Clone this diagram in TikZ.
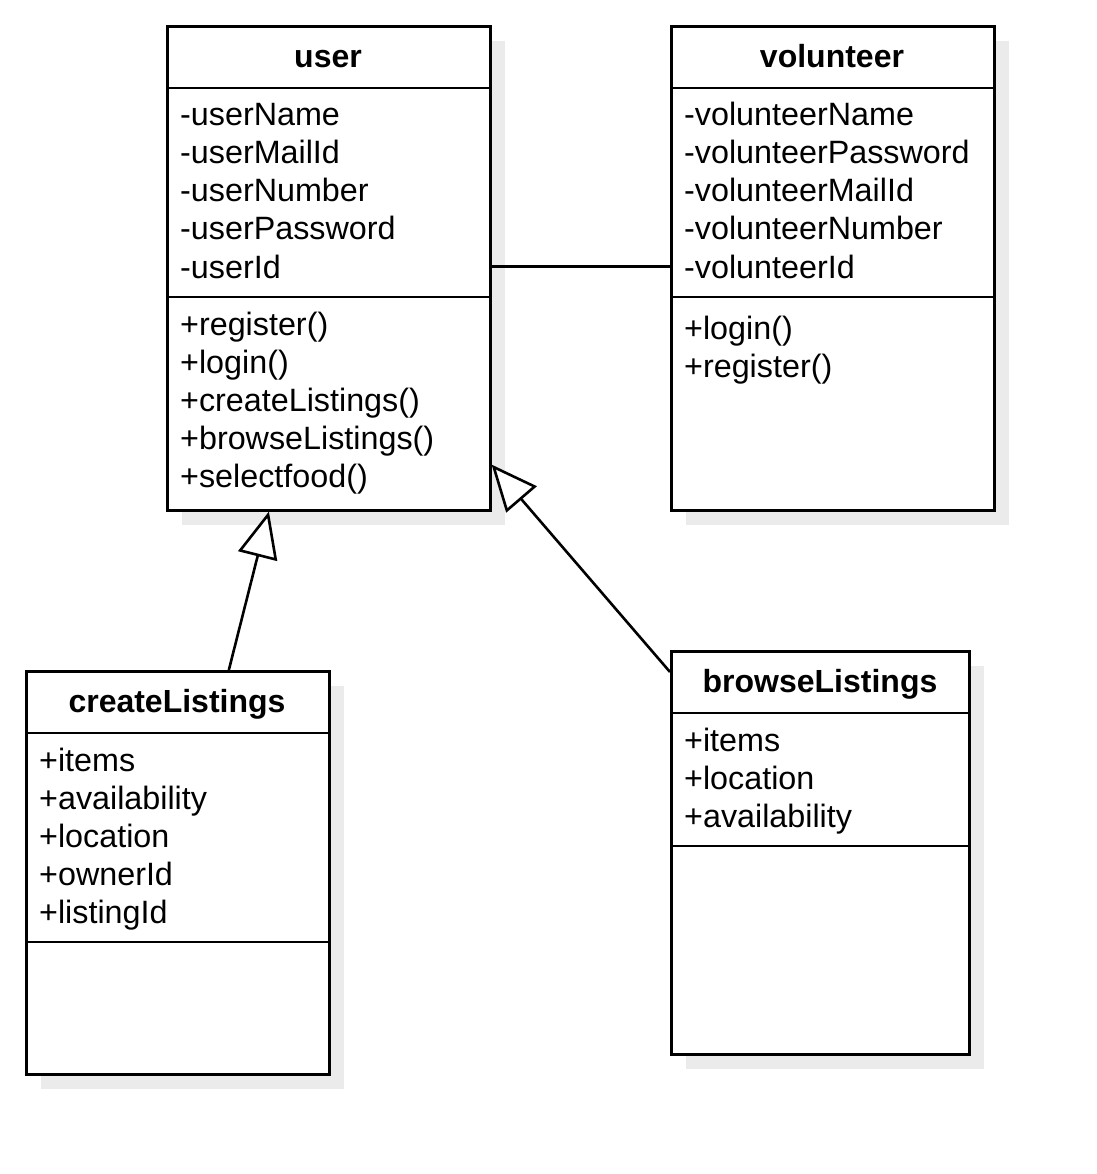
\documentclass[tikz,border=0pt]{standalone}
\usepackage{fontspec}
\setmainfont{Liberation Sans}
\usetikzlibrary{arrows.meta}
\usetikzlibrary{shadows}
\usetikzlibrary{calc}

\begin{document}
\begin{tikzpicture}[x=1pt,y=-1pt,
classbox/.style={draw,line width=2.6pt,fill=white,inner sep=0,anchor=north west,
drop shadow={shadow xshift=15pt,shadow yshift=-15pt,fill=black!8,opacity=1}},
title/.style={font=\fontsize{32}{38}\selectfont\bfseries,inner sep=0,anchor=base},
member/.style={font=\fontsize{32.3}{38}\selectfont,inner sep=0,anchor=base west},
sep/.style={line width=2.6pt},
inherit/.style={line width=2.6pt,-{Triangle[fill=white,length=46pt,width=40pt]}}]
\useasboundingbox (0,0) rectangle (1096,1174);
% class boxes
\node[classbox,minimum width=323pt,minimum height=484pt] (user) at (166,25) {};
\node[classbox,minimum width=323pt,minimum height=484pt] (volunteer) at (670,25) {};
\node[classbox,minimum width=303pt,minimum height=403pt] (cl) at (25,670) {};
\node[classbox,minimum width=298pt,minimum height=403pt] (bl) at (670,650) {};
% compartments
\draw[sep] (user.north west) ++(0,63) -- ++(323,0);
\draw[sep] (user.north west) ++(0,272) -- ++(323,0);
\draw[sep] (volunteer.north west) ++(0,63) -- ++(323,0);
\draw[sep] (volunteer.north west) ++(0,272) -- ++(323,0);
\draw[sep] (cl.north west) ++(0,63) -- ++(303,0);
\draw[sep] (cl.north west) ++(0,272) -- ++(303,0);
\draw[sep] (bl.north west) ++(0,63) -- ++(298,0);
\draw[sep] (bl.north west) ++(0,196) -- ++(298,0);
% titles
\node[title] (usert) at (328,68) {user};
\node[title] (volt) at (832,68) {volunteer};
\node[title] (clt) at (177,712) {createListings};
\node[title] (blt) at (820,692) {browseListings};
% members
\foreach \t [count=\i] in {-userName,-userMailId,-userNumber,-userPassword,-userId}
  \node[member] (ua\i) at (180,{126+38*(\i-1)}) {\t};
\foreach \t [count=\i] in {+register(),+login(),+createListings(),+browseListings(),+selectfood()}
  \node[member] (um\i) at (180,{335+38*(\i-1)}) {\t};
\foreach \t [count=\i] in {-volunteerName,-volunteerPassword,-volunteerMailId,-volunteerNumber,-volunteerId}
  \node[member] (va\i) at (684,{126+38*(\i-1)}) {\t};
\foreach \t [count=\i] in {+login(),+register()}
  \node[member] (vm\i) at (684,{339+38*(\i-1)}) {\t};
\foreach \t [count=\i] in {+items,+availability,+location,+ownerId,+listingId}
  \node[member] (ca\i) at (39,{771+38*(\i-1)}) {\t};
\foreach \t [count=\i] in {+items,+location,+availability}
  \node[member] (ba\i) at (684,{751+38*(\i-1)}) {\t};
% connectors
\draw[sep] (user.east |- va5) -- (volunteer.west |- va5);
\draw[inherit] ($(cl.north west)!0.667!(cl.north east)$) -- ($(user.south west)!0.316!(user.south east)$);
\draw[inherit] ($(bl.north west)+(0,22)$) -- ($(user.south east)+(0,-47)$);
\end{tikzpicture}
\end{document}
